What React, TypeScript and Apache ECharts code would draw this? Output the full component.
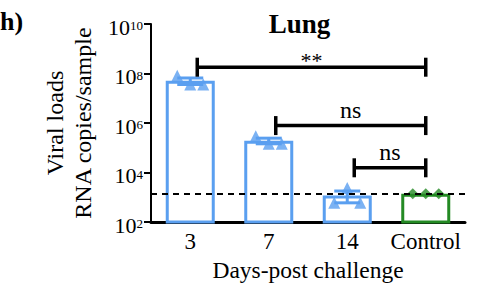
import React, { useEffect, useRef } from "react";
import * as echarts from "echarts";

// ---- data ----
const categories = ["3", "7", "14", "Control"];
const barMeans = [5.1e7, 1.95e5, 1.2e3, 1.4e3];
const errLow = [3.6e7, 1.45e5, 6.0e2];
const errHigh = [6.6e7, 2.45e5, 1.8e3];
const points3 = [8.1e7, 3.6e7, 3.6e7];
const points7 = [2.95e5, 1.45e5, 1.45e5];
const points14 = [6.0e2, 2.4e3, 6.0e2];
const pointsControl = [1.4e3, 1.4e3, 1.4e3];
const detectionLimit = 1.4e3;
const bracketFrom = [0, 1, 2];
const bracketTo = [3, 3, 3];
const bracketLevel = [1.8e8, 7.9e5, 1.56e4];
const bracketLabels = ["**", "ns", "ns"];

// ---- styles ----
const BLUE = "#5a9ff0";
const GREEN = "#248a24";
const FONT = "Liberation Serif";
const JITTER = [-13, 0, 13];

export default function App() {
  const ref = useRef<HTMLDivElement>(null);
  useEffect(() => {
    if (!ref.current) return;
    const chart = echarts.init(ref.current, null, { renderer: "svg" });

    const bluePts: any[] = [];
    [points3, points7, points14].forEach((grp, g) => {
      grp.forEach((v, j) => bluePts.push({ value: [g, v], symbolOffset: [JITTER[j], 0] }));
    });
    const greenPts = pointsControl.map((v, j) => ({ value: [3, v], symbolOffset: [JITTER[j], 0] }));

    const option: any = {
      animation: false,
      backgroundColor: "#fff",
      textStyle: { fontFamily: FONT, color: "#000" },
      grid: { left: 151, top: 24, width: 314, height: 208, containLabel: false },
      graphic: [
        {
          type: "text",
          left: 0,
          top: 8,
          style: { text: "h)", fontFamily: FONT, fontWeight: "bold", fontSize: 26, fill: "#000" },
        },
        {
          type: "text",
          x: 299.5,
          y: 24,
          style: {
            text: "Lung",
            fontFamily: FONT,
            fontWeight: "bold",
            fontSize: 27,
            fill: "#000",
            align: "center",
            verticalAlign: "middle",
          },
        },
      ],
      xAxis: {
        type: "category",
        data: categories,
        name: "Days-post challenge",
        nameLocation: "middle",
        nameGap: 27,
        nameTextStyle: { fontFamily: FONT, fontSize: 23.5, color: "#000", verticalAlign: "top" },
        axisLine: { lineStyle: { color: "#000", width: 3 } },
        axisTick: { alignWithLabel: true, length: 7, lineStyle: { color: "#000", width: 2 } },
        axisLabel: { interval: 0, fontFamily: FONT, fontSize: 23, color: "#000", margin: 8 },
        splitLine: { show: false },
      },
      yAxis: {
        type: "log",
        logBase: 10,
        min: 1e2,
        max: 1e10,
        interval: 2,
        name: "Viral loads\nRNA copies/sample",
        nameLocation: "middle",
        nameRotate: 90,
        nameGap: 47,
        nameTextStyle: { fontFamily: FONT, fontSize: 24, color: "#000", lineHeight: 28 },
        axisLine: { show: true, lineStyle: { color: "#000", width: 2 } },
        axisTick: { show: true, length: 7, lineStyle: { color: "#000", width: 2 } },
        splitLine: { show: false },
        axisLabel: {
          margin: 8,
          fontFamily: FONT,
          formatter: (v: number) => `{b|10}{s|${Math.round(Math.log10(v))}}`,
          rich: {
            b: { fontFamily: FONT, fontSize: 22, color: "#000", lineHeight: 22, padding: [6, 0, 0, 0] },
            s: {
              fontFamily: FONT,
              fontSize: 13,
              color: "#000",
              lineHeight: 13,
              verticalAlign: "top",
              padding: [6, 0, 0, 0],
            },
          },
        },
      },
      series: [
        {
          type: "bar",
          barWidth: 49,
          clip: true,
          data: barMeans.map((v, i) => ({
            value: v,
            itemStyle: {
              color: "rgba(255,255,255,0)",
              borderColor: i === 3 ? GREEN : BLUE,
              borderWidth: 3,
            },
          })),
          markLine: {
            silent: true,
            symbol: ["none", "none"],
            label: { show: false },
            lineStyle: { type: [6, 5], color: "#000", width: 2 },
            data: [{ yAxis: detectionLimit }],
          },
          z: 2,
        },
        {
          type: "custom",
          z: 3,
          data: errLow.map((lo, i) => [i, lo, errHigh[i]]),
          encode: { x: 0, y: [1, 2] },
          renderItem: (params: any, api: any) => {
            const x = api.value(0);
            const lo = api.coord([x, api.value(1)]);
            const hi = api.coord([x, api.value(2)]);
            const w = 13;
            const style = { stroke: BLUE, lineWidth: 3 };
            return {
              type: "group",
              children: [
                { type: "line", shape: { x1: lo[0], y1: lo[1], x2: hi[0], y2: hi[1] }, style },
                { type: "line", shape: { x1: lo[0] - w, y1: lo[1], x2: lo[0] + w, y2: lo[1] }, style },
                { type: "line", shape: { x1: hi[0] - w, y1: hi[1], x2: hi[0] + w, y2: hi[1] }, style },
              ],
            };
          },
        },
        {
          type: "scatter",
          symbol: "triangle",
          symbolSize: 12,
          itemStyle: { color: BLUE },
          data: bluePts,
          z: 4,
        },
        {
          type: "scatter",
          symbol: "diamond",
          symbolSize: 11,
          itemStyle: { color: GREEN },
          data: greenPts,
          z: 4,
        },
        {
          type: "custom",
          z: 5,
          data: bracketFrom.map((f, i) => [f, bracketLevel[i], bracketTo[i]]),
          encode: { x: [0, 2], y: 1 },
          renderItem: (params: any, api: any) => {
            const a = api.coord([api.value(0), api.value(1)]);
            const b = api.coord([api.value(2), api.value(1)]);
            const x1 = a[0] + 7;
            const x2 = b[0];
            const y = a[1];
            const h = 9.5;
            const style = { stroke: "#000", lineWidth: 3.5 };
            const label = bracketLabels[params.dataIndex];
            const star = label === "**";
            return {
              type: "group",
              children: [
                { type: "line", shape: { x1, y1: y, x2, y2: y }, style },
                { type: "line", shape: { x1, y1: y - h, x2: x1, y2: y + h }, style },
                { type: "line", shape: { x1: x2, y1: y - h, x2, y2: y + h }, style },
                {
                  type: "text",
                  x: (x1 + x2) / 2,
                  y: star ? y + 4 : y - 4,
                  style: {
                    text: label,
                    fontFamily: FONT,
                    fontSize: star ? 22 : 24,
                    fill: "#000",
                    align: "center",
                    verticalAlign: "bottom",
                  },
                },
              ],
            };
          },
        },
      ],
    };
    chart.setOption(option);
    return () => chart.dispose();
  }, []);
  return (
    <div
      ref={ref}
      style={{ position: "absolute", left: 0, top: 0, width: 480, height: 287, background: "#fff" }}
    />
  );
}
